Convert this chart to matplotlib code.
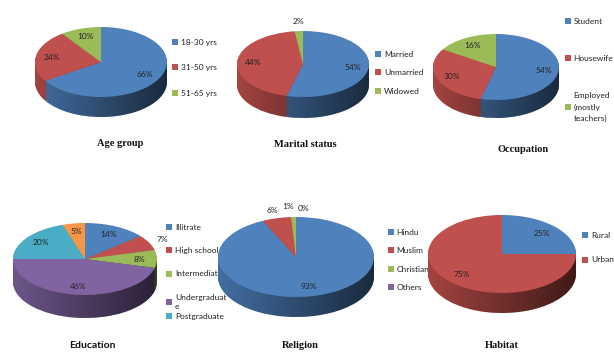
import numpy as np
import matplotlib
matplotlib.use('Agg')
import matplotlib.pyplot as plt
from matplotlib.patches import Polygon
from matplotlib.colors import to_rgb

# donnees
age_labels = ['18-30 yrs', '31-50 yrs', '51-65 yrs']
age_values = [66, 24, 10]

marital_labels = ['Married', 'Unmarried', 'Widowed']
marital_values = [54, 44, 2]

occupation_labels = ['Student', 'Housewife', 'Employed\n(mostly\nteachers)']
occupation_values = [54, 30, 16]

education_labels = ['Illitrate', 'High school', 'Intermediate', 'Undergraduat\ne', 'Postgraduate', 'Other']
education_values = [14, 7, 8, 46, 20, 5]

religion_labels = ['Hindu', 'Muslim', 'Christian', 'Others']
religion_values = [93, 6, 1, 0]

habitat_labels = ['Rural', 'Urban']
habitat_values = [25, 75]

palette = ['#4F81BD', '#C0504D', '#9BBB59', '#8064A2', '#4BACC6', '#F79646']

W, H = 614, 352
SANS = ['Lato', 'DejaVu Sans']
SERIF = ['Liberation Serif', 'DejaVu Serif']

fig = plt.figure(figsize=(W / 100, H / 100), dpi=100)


def darker(c, f):
	r, g, b = to_rgb(c)
	return (r * f, g * f, b * f)


def add_legend(ax, handles, labels, xy, spacing, linespacing=1.45):
	leg = ax.legend(handles, labels, loc='upper left',
			bbox_to_anchor=(xy[0] / W, 1 - xy[1] / H), bbox_transform=fig.transFigure,
			frameon=False, borderpad=0, borderaxespad=0, handlelength=0.7, handleheight=0.7,
			handletextpad=0.35, labelspacing=spacing,
			prop=dict(family=SANS, size=6), labelcolor='#222222')
	for t in leg.get_texts():
		t.set_linespacing(linespacing)
	return leg


def pie3d(values, labels, cx, cy, rx, ry, depth, legend_xy, spacing,
		title, title_xy, title_font=SERIF, outside=(), nudge=None, n_legend=None,
		linespacing=1.45):
	# axes place en pixels autour de l'ellipse (y de l'image vers le bas)
	ax = fig.add_axes([(cx - rx) / W, 1 - (cy + ry + depth) / H, 2 * rx / W, (2 * ry + depth) / H])
	colors = palette[:len(values)]
	d = depth / ry
	# flanc : couches empilees, plus sombres
	side = [darker(c, 0.85) for c in colors]
	for k in range(int(depth), 0, -1):
		ax.pie(values, colors=side, startangle=90, counterclock=False,
				center=(0, -k / ry), wedgeprops=dict(linewidth=0, zorder=1))
	# degrade gauche -> droite sur le flanc
	grad = np.zeros((2, 256, 4))
	grad[..., 3] = np.linspace(0.0, 0.62, 256)
	im = ax.imshow(grad, extent=(-1, 1, -1 - d, 0), aspect='auto', zorder=1.5,
					interpolation='bilinear')
	xs = np.linspace(-1, 1, 200)
	outline = np.vstack([np.column_stack([xs, -d - np.sqrt(1 - xs ** 2)]), [[1, 0], [-1, 0]]])
	clip = Polygon(outline, closed=True, transform=ax.transData, facecolor='none', edgecolor='none')
	ax.add_patch(clip)
	im.set_clip_path(clip)
	# dessus
	wedges, _, pcts = ax.pie(values, colors=colors, startangle=90, counterclock=False,
							autopct='%1.0f%%', pctdistance=0.76,
							wedgeprops=dict(linewidth=0, zorder=2),
							textprops=dict(fontsize=6, color='#222222', family=SANS))
	for i in outside:
		w = wedges[i]
		a = np.deg2rad((w.theta1 + w.theta2) / 2)
		pcts[i].set_position((1.2 * np.cos(a), 1.2 * np.sin(a)))
	if nudge:
		for i, (dx, dy) in nudge.items():
			x, y = pcts[i].get_position()
			pcts[i].set_position((x + dx, y + dy))
	ax.set_aspect('auto')
	ax.set_xlim(-1, 1)
	ax.set_ylim(-1 - d, 1)
	ax.axis('off')

	n = n_legend or len(values)
	add_legend(ax, wedges[:n], labels[:n], legend_xy, spacing, linespacing)
	fig.text(title_xy[0] / W, 1 - title_xy[1] / H, title, ha='center', va='center',
			fontsize=7.5, fontweight='bold', family=title_font, color='#111111')
	return ax, wedges


pie3d(age_values, age_labels, 101, 62, 66, 35, 20, (172, 39), 2.2,
	'Age group', (120, 143))
pie3d(marital_values, marital_labels, 303, 64, 66, 33, 21, (375, 51), 1.35,
	'Marital status', (305, 144), outside=[2], nudge={2: (0, 0.1)})
pie3d(occupation_values, occupation_labels, 496, 67, 63, 33, 18, (565, 18), 3.6,
	'Occupation', (523, 149), linespacing=1.75)
ax_edu, edu_wedges = pie3d(education_values, education_labels, 85, 259, 72, 36, 23, (166, 224), 1.95,
	'Education', (92, 346), title_font=SANS, outside=[1], n_legend=4)
# l'entree "Postgraduate" est plus serree sous le libelle coupe
first = ax_edu.get_legend()
ax_edu.add_artist(first)
add_legend(ax_edu, edu_wedges[4:5], education_labels[4:5], (166, 313), 1.0)
pie3d(religion_values, religion_labels, 296, 257, 78, 40, 20, (388, 229), 1.35,
	'Religion', (300, 346), outside=[1, 2, 3], nudge={2: (-0.06, 0.07), 3: (0.1, 0)})
pie3d(habitat_values, habitat_labels, 502, 254, 74, 39, 20, (582, 232), 2.1,
	'Habitat', (502, 346))

fig.savefig('out.png', dpi=100)
